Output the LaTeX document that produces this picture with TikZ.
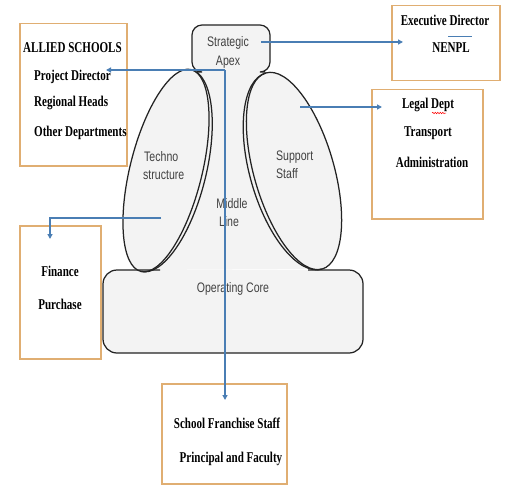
\documentclass[tikz,border=0pt]{standalone}
\usepackage{fontspec}
\setmainfont{Liberation Serif}
\setsansfont{Liberation Sans}
\usetikzlibrary{arrows.meta,decorations.pathmorphing}
\definecolor{oboxc}{RGB}{224,174,114}
\definecolor{barrow}{RGB}{74,126,180}
\definecolor{shfill}{RGB}{243,243,243}
\definecolor{shline}{RGB}{35,35,35}
\definecolor{lbl}{RGB}{65,65,65}
\newcommand{\sertx}[1]{\scalebox{0.85}[1.15]{\fontsize{13}{13}\selectfont\bfseries #1}}
\newcommand{\santx}[1]{\scalebox{0.88}[1.15]{\fontsize{12}{12}\selectfont\sffamily #1}}
\begin{document}
\begin{tikzpicture}[x=1pt,y=1pt,
  orangebox/.style={draw=oboxc, line width=1.5pt, inner sep=0pt, anchor=north west},
  arr/.style={draw=barrow, line width=1.4pt, -{Triangle[length=5pt,width=5pt]}},
  shapeline/.style={draw=shline, line width=1.25pt},
  sertext/.style={inner sep=0pt, text=black},
  santext/.style={inner sep=0pt, text=lbl}]
\useasboundingbox (0,0) rectangle (505,-484);

% ---------- orange boxes ----------
\node[orangebox, minimum width=107pt, minimum height=142pt] (allied) at (19,-23) {};
\node[orangebox, minimum width=108pt, minimum height=75pt] (exec) at (391,-5) {};
\node[orangebox, minimum width=111pt, minimum height=129pt] (legal) at (371,-89) {};
\node[orangebox, minimum width=81pt, minimum height=133pt] (fin) at (19,-225) {};
\node[orangebox, minimum width=125pt, minimum height=100pt] (school) at (161,-383) {};

% ---------- Mintzberg shape: fills ----------
\fill[shfill] (191,-72) -- (266,-72) -- (322,-269) -- (141,-270) -- cycle;
\fill[shfill, rounded corners=14] (103,-270) rectangle (363,-353);
\fill[shfill, rounded corners=10] (196,-72) -| (192,-25) -| (270,-72) -- cycle;
\fill[shfill, rotate around={76:(166,-170.5)}] (166,-170.5) ellipse [x radius=104, y radius=36];
\fill[shfill, rotate around={106:(294,-171)}] (294,-171) ellipse [x radius=102, y radius=40];

% ---------- Mintzberg shape: outlines ----------
\draw[shapeline, rounded corners=10] (197,-72) -| (192,-25) -| (270,-72) -- (265,-72);
\draw[shapeline, rotate around={76:(166,-170.5)}] (166,-170.5) ellipse [x radius=104, y radius=36];
\draw[shapeline, shift={(166,-170.5)}, rotate=76] (104,0) arc[start angle=0, end angle=-180, x radius=104, y radius=40];
\draw[shapeline, rotate around={106:(294,-171)}] (294,-171) ellipse [x radius=102, y radius=40];
\draw[shapeline, shift={(294,-171)}, rotate=106] (102,0) arc[start angle=0, end angle=180, x radius=102, y radius=44];
\draw[shapeline, rounded corners=14] (160,-270) -- (103,-270) -- (103,-353) -- (363,-353) -- (363,-270) -- (308,-270);

% ---------- shape labels ----------
\node[santext] (sa1) at (228,-43) {\santx{Strategic}};
\node[santext] (sa2) at (228,-62) {\santx{Apex}};
\node[santext, anchor=west] (ts1) at (144,-157) {\santx{Techno}};
\node[santext, anchor=west] (ts2) at (143,-175) {\santx{structure}};
\node[santext, anchor=west] (ss1) at (276,-157) {\santx{Support}};
\node[santext, anchor=west] (ss2) at (276,-174) {\santx{Staff}};
\node[santext] (ml1) at (232,-204) {\santx{Middle}};
\node[santext] (ml2) at (229,-222) {\santx{Line}};
\node[santext] (oc) at (233,-289) {\santx{Operating Core}};

% ---------- box texts ----------
\node[sertext, anchor=west] (t1) at (23,-48) {\sertx{ALLIED SCHOOLS}};
\node[sertext, anchor=west] (t2) at (34,-77) {\sertx{Project Director}};
\node[sertext, anchor=west] (t3) at (34,-103) {\sertx{Regional Heads}};
\node[sertext, anchor=west] (t4) at (34,-133) {\sertx{Other Departments}};
\node[sertext] (t5) at (445,-20) {\sertx{Executive Director}};
\node[sertext] (t6) at (451,-48) {\sertx{NENPL}};
\node[sertext] (t7) at (428,-105) {\sertx{Legal Dept}};
\node[sertext] (t8) at (428,-133) {\sertx{Transport}};
\node[sertext] (t9) at (432,-162) {\sertx{Administration}};
\node[sertext] (t10) at (60,-271) {\sertx{Finance}};
\node[sertext] (t11) at (60,-304) {\sertx{Purchase}};
\node[sertext] (t12) at (227,-423) {\sertx{School Franchise Staff}};
\node[sertext] (t13) at (231,-459) {\sertx{Principal and Faculty}};

% small marks
\coordinate (nl1) at (448,-37); \coordinate (nl2) at (472,-37);
\draw[draw=barrow, line width=1pt] (nl1) -- (nl2);
\coordinate (sq1) at (432,-113); \coordinate (sq2) at (446,-113);
\draw[red, line width=0.5pt, decorate, decoration={snake, amplitude=0.7pt, segment length=2.5pt}] (sq1) -- (sq2);

% ---------- blue connectors ----------
\coordinate (jn) at (225,-70);
\coordinate (pdtip) at (106,-70);
\coordinate (sctip) at (225,-400);
\coordinate (apexr) at (261,-42);
\coordinate (extip) at (403,-42);
\coordinate (supp) at (300,-107);
\coordinate (lgtip) at (382,-107);
\coordinate (tech) at (161,-218);
\coordinate (fntip) at (50,-239);
\draw[arr] (jn) -- (pdtip);
\draw[arr] (jn) -- (sctip);
\draw[arr] (apexr) -- (extip);
\draw[arr] (supp) -- (lgtip);
\draw[arr] (tech) -| (fntip);
\end{tikzpicture}
\end{document}
